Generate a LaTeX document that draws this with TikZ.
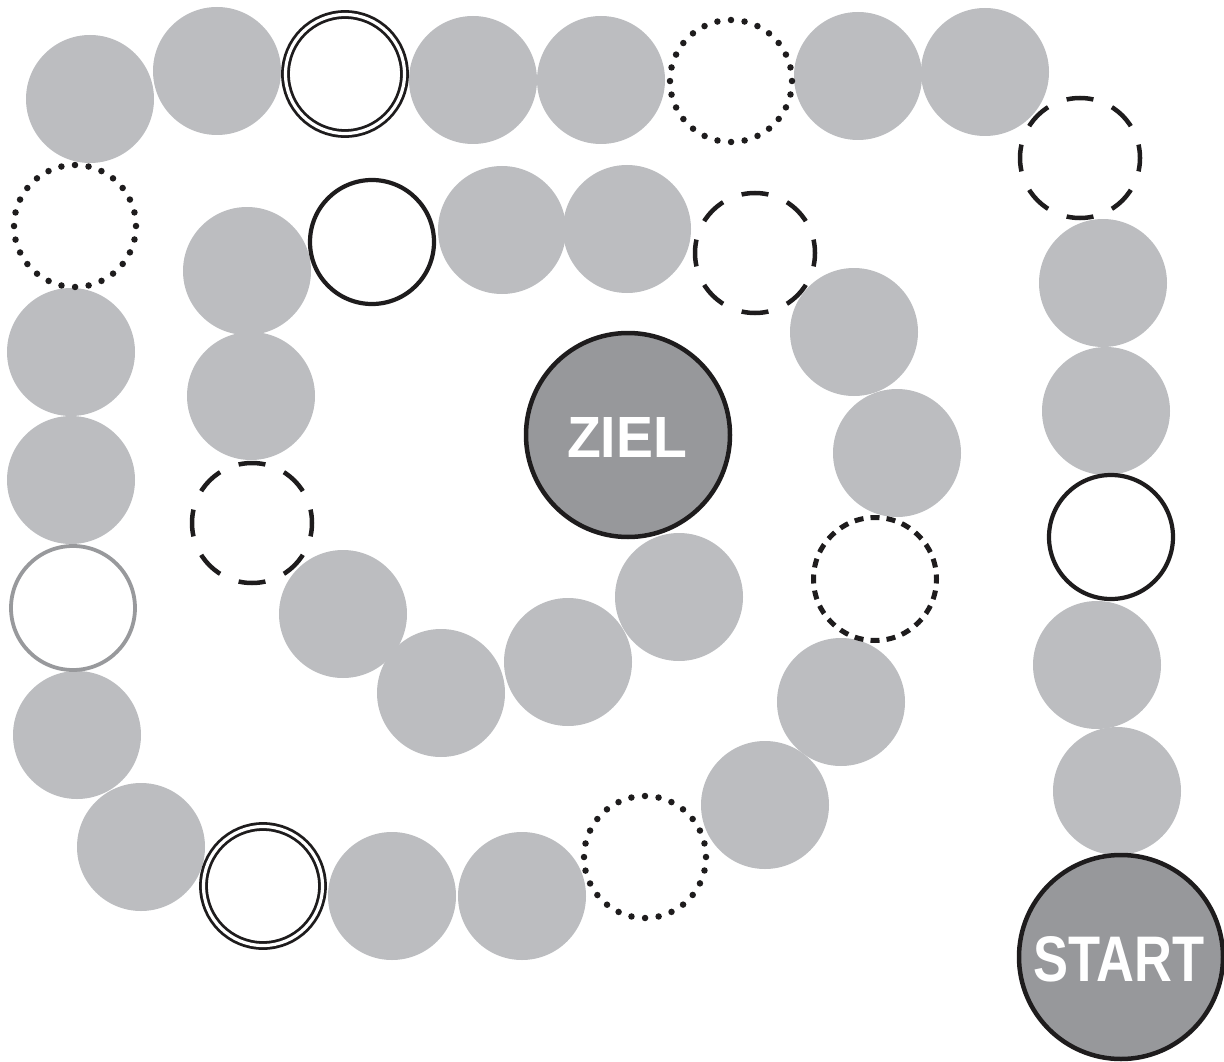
\documentclass[tikz,border=0pt]{standalone}
\usepackage{fontspec}
\setmainfont{Liberation Sans}
\usepackage{graphicx}
\definecolor{cellgray}{HTML}{BCBDC0}
\definecolor{biggray}{HTML}{97989B}
\definecolor{ringgray}{HTML}{98999C}
\definecolor{ink}{HTML}{1E1C1D}
\begin{document}
\begin{tikzpicture}[x=1pt,y=-1pt,
  cell/.style={circle, inner sep=0pt, outer sep=0pt},
  graycell/.style={cell, fill=cellgray, minimum size=128pt},
  bigdash/.style={cell, draw=ink, line width=4.5pt, minimum size=120pt,
     dash pattern=on 27pt off 20.12pt, dash phase=13.5pt},
  finedash/.style={cell, draw=ink, line width=5pt, minimum size=123pt,
     dash pattern=on 9pt off 7.1pt, dash phase=4.5pt},
  dotcell/.style={cell, draw=ink, line width=6.5pt, line cap=round, minimum size=122pt,
     dash pattern=on 0pt off 13.69pt},
  doublecell/.style={cell, draw=ink, double=white, double distance=3.2pt, line width=2.8pt, minimum size=119pt},
  blackcell/.style={cell, draw=ink, line width=4.2pt, minimum size=124pt},
  ringcell/.style={cell, draw=ringgray, line width=3.8pt, minimum size=124pt},
  bigcell/.style={cell, fill=biggray, draw=ink, line width=4.5pt, text=white, font=\bfseries}
]
\useasboundingbox (0,0) rectangle (1224,1062);
% gray cells
\node[graycell] (g1) at (90,99) {};
\node[graycell] (g2) at (217,71) {};
\node[graycell] (g3) at (473,80) {};
\node[graycell] (g4) at (601,80) {};
\node[graycell] (g5) at (858,76) {};
\node[graycell] (g6) at (985,72) {};
\node[graycell] (g7) at (1103,283) {};
\node[graycell] (g8) at (1106,411) {};
\node[graycell] (g9) at (1097,665) {};
\node[graycell] (g10) at (1117,791) {};
\node[graycell] (g11) at (71,352) {};
\node[graycell] (g12) at (71,480) {};
\node[graycell] (g13) at (77,735) {};
\node[graycell] (g14) at (141,847) {};
\node[graycell] (g15) at (392,896) {};
\node[graycell] (g16) at (522,896) {};
\node[graycell] (g17) at (765,805) {};
\node[graycell] (g18) at (841,702) {};
\node[graycell] (g19) at (897,453) {};
\node[graycell] (g20) at (854,332) {};
\node[graycell] (g21) at (627,229) {};
\node[graycell] (g22) at (502,230) {};
\node[graycell] (g23) at (247,271) {};
\node[graycell] (g24) at (251,396) {};
\node[graycell] (g25) at (343,614) {};
\node[graycell] (g26) at (441,693) {};
\node[graycell] (g27) at (568,662) {};
\node[graycell] (g28) at (679,597) {};
% special cells
\node[doublecell] (d1) at (345,74) {};
\node[doublecell] (d2) at (263,886) {};
\node[dotcell] (p1) at (731,81) {};
\node[dotcell] (p2) at (75,226) {};
\node[dotcell] (p3) at (645,857) {};
\node[bigdash] (b1) at (1080,158) {};
\node[bigdash] (b2) at (755,253) {};
\node[bigdash] (b3) at (252,523) {};
\node[finedash] (f1) at (875,579) {};
\node[blackcell] (k1) at (1111,537) {};
\node[blackcell] (k2) at (372,242) {};
\node[ringcell] (r1) at (73,608) {};
% goal and start
\node[bigcell, minimum size=204pt] (ziel) at (628,435) {};
\node[text=white, inner sep=0pt] (zieltext) at (627,437) {\resizebox{120pt}{40pt}{\bfseries ZIEL}};
\node[bigcell, minimum size=204pt] (start) at (1121,957) {};
\node[text=white, inner sep=0pt] (starttext) at (1119,959.5) {\resizebox{171pt}{45pt}{\bfseries START}};
\end{tikzpicture}
\end{document}
